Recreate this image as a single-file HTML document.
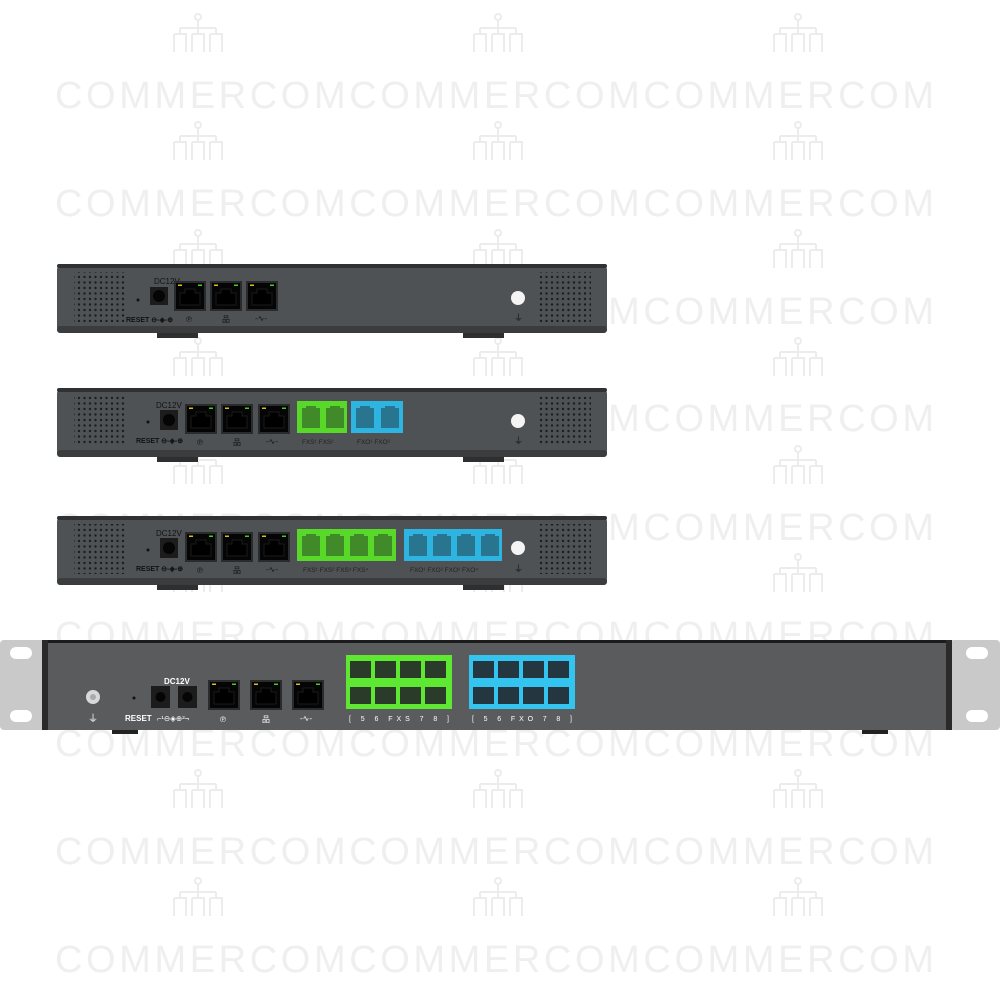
<!DOCTYPE html>
<html><head><meta charset="utf-8"><style>html,body{margin:0;padding:0;background:#fff}svg{display:block}</style></head>
<body>
<svg width="1000" height="1000" viewBox="0 0 1000 1000" xmlns="http://www.w3.org/2000/svg" font-family="Liberation Sans, sans-serif">
<defs>
<pattern id="dots" width="5.5" height="5.5" patternUnits="userSpaceOnUse"><circle cx="2" cy="2" r="1.2" fill="#1c1d1f"/></pattern>
<g id="rj"><rect x="0" y="0" width="32" height="30" fill="#2a2b2d"/><rect x="2" y="2" width="28" height="26" fill="#050505"/><path d="M6 12h5v-4h10v4h5v12h-20z" fill="#000" stroke="#1a1a1a"/><rect x="4" y="3.5" width="4" height="1.5" fill="#d8c020"/><rect x="24" y="3.5" width="4" height="1.5" fill="#40d020"/></g>
<g id="ph"><path d="M3 5h4v-2h10v2h4v20h-18z" fill="currentColor" opacity=".55"/></g>
<g id="wm" fill="none" stroke="#ececec" stroke-width="2"><circle cx="0" cy="0" r="3"/><path d="M0 3v8M-18 11h36M-18 11v6M0 11v6M18 11v6M-24 17h12v18M-24 17v18M-6 17h12v18M-6 17v18M12 17h12v18M12 17v18"/></g>
</defs>
<rect width="1000" height="1000" fill="#fff"/>
<g fill="#efefef" font-size="38" letter-spacing="6">
<text x="55" y="108" textLength="885">COMMERCOMCOMMERCOMCOMMERCOM</text>
<text x="55" y="216" textLength="885">COMMERCOMCOMMERCOMCOMMERCOM</text>
<text x="55" y="324" textLength="885">COMMERCOMCOMMERCOMCOMMERCOM</text>
<text x="55" y="431" textLength="885">COMMERCOMCOMMERCOMCOMMERCOM</text>
<text x="55" y="540" textLength="885">COMMERCOMCOMMERCOMCOMMERCOM</text>
<text x="55" y="648" textLength="885">COMMERCOMCOMMERCOMCOMMERCOM</text>
<text x="55" y="756" textLength="885">COMMERCOMCOMMERCOMCOMMERCOM</text>
<text x="55" y="864" textLength="885">COMMERCOMCOMMERCOMCOMMERCOM</text>
<text x="55" y="972" textLength="885">COMMERCOMCOMMERCOMCOMMERCOM</text>
</g>
<g>
<use href="#wm" x="198" y="17"/><use href="#wm" x="498" y="17"/><use href="#wm" x="798" y="17"/>
<use href="#wm" x="198" y="125"/><use href="#wm" x="498" y="125"/><use href="#wm" x="798" y="125"/>
<use href="#wm" x="198" y="233"/><use href="#wm" x="498" y="233"/><use href="#wm" x="798" y="233"/>
<use href="#wm" x="198" y="341"/><use href="#wm" x="498" y="341"/><use href="#wm" x="798" y="341"/>
<use href="#wm" x="198" y="449"/><use href="#wm" x="498" y="449"/><use href="#wm" x="798" y="449"/>
<use href="#wm" x="198" y="557"/><use href="#wm" x="498" y="557"/><use href="#wm" x="798" y="557"/>
<use href="#wm" x="198" y="773"/><use href="#wm" x="498" y="773"/><use href="#wm" x="798" y="773"/>
<use href="#wm" x="198" y="881"/><use href="#wm" x="498" y="881"/><use href="#wm" x="798" y="881"/>
</g>

<!-- Device 1 -->
<g>
<rect x="157" y="331" width="41" height="7" fill="#2e2f31"/><rect x="463" y="331" width="41" height="7" fill="#2e2f31"/>
<rect x="57" y="264" width="550" height="69" rx="6" fill="#4f5255"/>
<rect x="57" y="264" width="550" height="4" rx="2" fill="#2f3133"/>
<rect x="57" y="326" width="550" height="7" rx="3" fill="#3a3c3e"/>
<rect x="74" y="272" width="52" height="50" fill="url(#dots)"/>
<rect x="537" y="272" width="54" height="50" fill="url(#dots)"/>
<circle cx="138" cy="300" r="1.5" fill="#111"/>
<text x="126" y="322" font-size="7" fill="#111" font-weight="bold">RESET ⊖-◈-⊕</text>
<text x="154" y="284" font-size="8" fill="#111">DC12V</text>
<rect x="150" y="287" width="18" height="18" fill="#1c1c1c"/><circle cx="159" cy="296" r="6" fill="#050505"/>
<use href="#rj" x="174" y="281"/><use href="#rj" x="210" y="281"/><use href="#rj" x="246" y="281"/>
<text x="186" y="322" font-size="8" fill="#111">℗</text><text x="222" y="322" font-size="8" fill="#111">品</text><text x="255" y="321" font-size="8" fill="#111">-∿-</text>
<circle cx="518" cy="298" r="7" fill="#f4f4f4"/><text x="514" y="321" font-size="9" fill="#111">⏚</text>
</g>

<!-- Device 2 -->
<g>
<rect x="157" y="455" width="41" height="7" fill="#2e2f31"/><rect x="463" y="455" width="41" height="7" fill="#2e2f31"/>
<rect x="57" y="388" width="550" height="69" rx="6" fill="#4f5255"/>
<rect x="57" y="388" width="550" height="4" rx="2" fill="#2f3133"/>
<rect x="57" y="450" width="550" height="7" rx="3" fill="#3a3c3e"/>
<rect x="74" y="396" width="52" height="50" fill="url(#dots)"/>
<rect x="537" y="396" width="54" height="50" fill="url(#dots)"/>
<circle cx="148" cy="422" r="1.5" fill="#111"/>
<text x="136" y="443" font-size="7" fill="#111" font-weight="bold">RESET ⊖-◈-⊕</text>
<text x="156" y="408" font-size="8" fill="#111">DC12V</text>
<rect x="160" y="410" width="18" height="20" fill="#1c1c1c"/><circle cx="169" cy="420" r="6" fill="#050505"/>
<use href="#rj" x="185" y="404"/><use href="#rj" x="221" y="404"/><use href="#rj" x="258" y="404"/>
<text x="197" y="445" font-size="8" fill="#111">℗</text><text x="233" y="445" font-size="8" fill="#111">品</text><text x="266" y="444" font-size="8" fill="#111">-∿-</text>
<rect x="297" y="401" width="50" height="32" fill="#58d828"/><g color="#2f4a2a"><use href="#ph" x="299" y="403"/><use href="#ph" x="323" y="403"/></g>
<rect x="351" y="401" width="52" height="32" fill="#2eb4e0"/><g color="#27414c"><use href="#ph" x="353" y="403"/><use href="#ph" x="378" y="403"/></g>
<text x="302" y="444" font-size="6.5" fill="#222">FXS¹  FXS²</text><text x="357" y="444" font-size="6.5" fill="#222">FXO¹  FXO²</text>
<circle cx="518" cy="421" r="7" fill="#f4f4f4"/><text x="514" y="444" font-size="9" fill="#111">⏚</text>
</g>

<!-- Device 3 -->
<g>
<rect x="157" y="583" width="41" height="7" fill="#2e2f31"/><rect x="463" y="583" width="41" height="7" fill="#2e2f31"/>
<rect x="57" y="516" width="550" height="69" rx="6" fill="#4f5255"/>
<rect x="57" y="516" width="550" height="4" rx="2" fill="#2f3133"/>
<rect x="57" y="578" width="550" height="7" rx="3" fill="#3a3c3e"/>
<rect x="74" y="524" width="52" height="50" fill="url(#dots)"/>
<rect x="537" y="524" width="54" height="50" fill="url(#dots)"/>
<circle cx="148" cy="550" r="1.5" fill="#111"/>
<text x="136" y="571" font-size="7" fill="#111" font-weight="bold">RESET ⊖-◈-⊕</text>
<text x="156" y="536" font-size="8" fill="#111">DC12V</text>
<rect x="160" y="538" width="18" height="20" fill="#1c1c1c"/><circle cx="169" cy="548" r="6" fill="#050505"/>
<use href="#rj" x="185" y="532"/><use href="#rj" x="221" y="532"/><use href="#rj" x="258" y="532"/>
<text x="197" y="573" font-size="8" fill="#111">℗</text><text x="233" y="573" font-size="8" fill="#111">品</text><text x="266" y="572" font-size="8" fill="#111">-∿-</text>
<rect x="297" y="529" width="99" height="32" fill="#58d828"/><g color="#2f4a2a"><use href="#ph" x="299" y="531"/><use href="#ph" x="323" y="531"/><use href="#ph" x="347" y="531"/><use href="#ph" x="371" y="531"/></g>
<rect x="404" y="529" width="98" height="32" fill="#2eb4e0"/><g color="#27414c"><use href="#ph" x="406" y="531"/><use href="#ph" x="430" y="531"/><use href="#ph" x="454" y="531"/><use href="#ph" x="478" y="531"/></g>
<text x="303" y="572" font-size="6.5" fill="#222">FXS¹  FXS²  FXS³  FXS⁴</text><text x="410" y="572" font-size="6.5" fill="#222">FXO¹  FXO²  FXO³  FXO⁴</text>
<circle cx="518" cy="548" r="7" fill="#f4f4f4"/><text x="514" y="572" font-size="9" fill="#111">⏚</text>
</g>

<!-- Rack device -->
<g>
<rect x="0" y="640" width="50" height="90" rx="4" fill="#c9c9c9"/><rect x="950" y="640" width="50" height="90" rx="4" fill="#c9c9c9"/>
<rect x="10" y="647" width="22" height="12" rx="6" fill="#fff"/><rect x="10" y="710" width="22" height="12" rx="6" fill="#fff"/>
<rect x="966" y="647" width="22" height="12" rx="6" fill="#fff"/><rect x="966" y="710" width="22" height="12" rx="6" fill="#fff"/>
<rect x="112" y="728" width="26" height="6" fill="#222"/><rect x="862" y="728" width="26" height="6" fill="#222"/>
<rect x="42" y="640" width="910" height="90" fill="#5a5b5d"/>
<rect x="42" y="640" width="910" height="3" fill="#1c1c1c"/>
<rect x="42" y="640" width="6" height="90" fill="#2a2a2a"/><rect x="946" y="640" width="6" height="90" fill="#2a2a2a"/>
<circle cx="93" cy="697" r="7" fill="#d8d8d8"/><circle cx="93" cy="697" r="3" fill="#aaa"/>
<text x="88" y="722" font-size="10" fill="#fff">⏚</text>
<circle cx="134" cy="698" r="1.5" fill="#111"/>
<text x="125" y="721" font-size="8" fill="#fff" font-weight="bold">RESET</text>
<text x="164" y="684" font-size="8" fill="#fff" font-weight="bold">DC12V</text>
<rect x="151" y="686" width="19" height="22" fill="#1c1c1c"/><circle cx="160.5" cy="697" r="5" fill="#050505"/>
<rect x="178" y="686" width="19" height="22" fill="#1c1c1c"/><circle cx="187.5" cy="697" r="5" fill="#050505"/>
<text x="157" y="721" font-size="7.5" fill="#fff">⌐¹⊖◈⊕²¬</text>
<use href="#rj" x="208" y="680" transform="translate(0,0)"/>
<use href="#rj" x="250" y="680"/><use href="#rj" x="292" y="680"/>
<text x="220" y="722" font-size="8" fill="#fff">℗</text><text x="262" y="722" font-size="8" fill="#fff">品</text><text x="300" y="721" font-size="8" fill="#fff">-∿-</text>
<rect x="346" y="655" width="106" height="54" fill="#5ee832"/>
<g fill="#2b3b2a"><rect x="350" y="661" width="21" height="17"/><rect x="375" y="661" width="21" height="17"/><rect x="400" y="661" width="21" height="17"/><rect x="425" y="661" width="21" height="17"/>
<rect x="350" y="687" width="21" height="17"/><rect x="375" y="687" width="21" height="17"/><rect x="400" y="687" width="21" height="17"/><rect x="425" y="687" width="21" height="17"/></g>
<rect x="469" y="655" width="106" height="54" fill="#34c4f0"/>
<g fill="#24363f"><rect x="473" y="661" width="21" height="17"/><rect x="498" y="661" width="21" height="17"/><rect x="523" y="661" width="21" height="17"/><rect x="548" y="661" width="21" height="17"/>
<rect x="473" y="687" width="21" height="17"/><rect x="498" y="687" width="21" height="17"/><rect x="523" y="687" width="21" height="17"/><rect x="548" y="687" width="21" height="17"/></g>
<text x="349" y="721" font-size="7" fill="#fff" textLength="100">[ 5     6 FXS 7     8 ]</text>
<text x="472" y="721" font-size="7" fill="#fff" textLength="100">[ 5     6 FXO 7     8 ]</text>
</g>
</svg>
</body></html>
